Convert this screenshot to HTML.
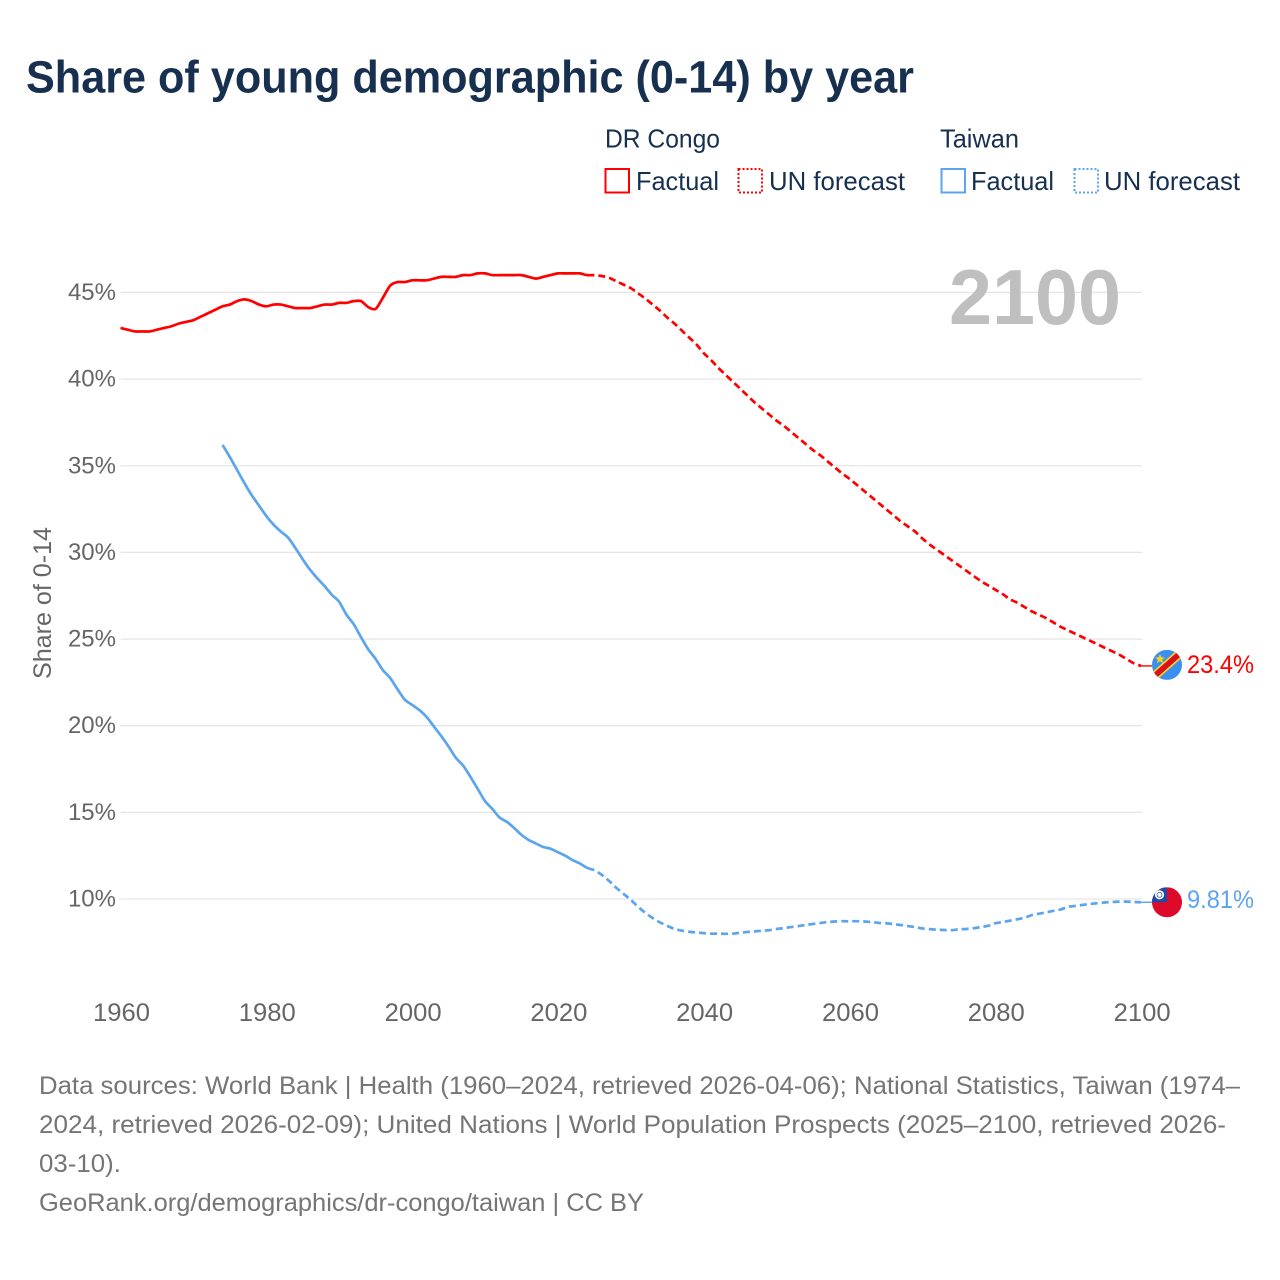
<!DOCTYPE html>
<html lang="en">
<head>
<meta charset="utf-8">
<title>Share of young demographic (0-14) by year</title>
<style>
html,body{margin:0;padding:0;background:#fff;width:1280px;height:1280px;overflow:hidden}
svg{display:block}
text{font-family:"Liberation Sans",sans-serif}
</style>
</head>
<body>
<svg id="chart" width="1280" height="1280" viewBox="0 0 1280 1280" xmlns="http://www.w3.org/2000/svg">
  <rect width="1280" height="1280" fill="#fff"/>
  <text x="26" y="92.5" font-size="45" font-weight="700" fill="#17304f" textLength="888" lengthAdjust="spacingAndGlyphs">Share of young demographic (0-14) by year</text>

  <g font-size="26" fill="#17304f">
    <text x="605" y="147.5" textLength="115" lengthAdjust="spacingAndGlyphs">DR Congo</text>
    <text x="940" y="147.5" textLength="79" lengthAdjust="spacingAndGlyphs">Taiwan</text>
    <rect x="605.5" y="169" width="23.5" height="23.5" fill="none" stroke="#ff0000" stroke-width="2"/>
    <text x="636" y="190" textLength="83" lengthAdjust="spacingAndGlyphs">Factual</text>
    <rect x="738.5" y="169" width="23.5" height="23.5" fill="none" stroke="#ff0000" stroke-width="2" stroke-dasharray="2 2"/>
    <text x="769" y="190" textLength="136" lengthAdjust="spacingAndGlyphs">UN forecast</text>
    <rect x="941.5" y="169" width="23.5" height="23.5" fill="none" stroke="#5ba4ee" stroke-width="2"/>
    <text x="971" y="190" textLength="83" lengthAdjust="spacingAndGlyphs">Factual</text>
    <rect x="1074.5" y="169" width="23.5" height="23.5" fill="none" stroke="#5ba4ee" stroke-width="2" stroke-dasharray="2 2"/>
    <text x="1104" y="190" textLength="136" lengthAdjust="spacingAndGlyphs">UN forecast</text>
  </g>

  <g id="grid"></g>
  <text x="949" y="324" font-size="78" font-weight="700" fill="#bfbfbf" textLength="172" lengthAdjust="spacingAndGlyphs">2100</text>
  <g id="y-ticks"></g>
  <g id="x-ticks"></g>
  <text transform="translate(51,679) rotate(-90)" font-size="25" fill="#666" textLength="152" lengthAdjust="spacingAndGlyphs">Share of 0-14</text>
  <g id="series"></g>

  <g id="flag-cd">
    <clipPath id="clip-cd"><circle cx="0" cy="0" r="15"/></clipPath>
    <g clip-path="url(#clip-cd)">
      <rect x="-15" y="-15" width="30" height="30" fill="#3a8ff0"/>
      <line x1="-18" y1="16" x2="18" y2="-16" stroke="#f7d21e" stroke-width="9"/>
      <line x1="-18" y1="16" x2="18" y2="-16" stroke="#d8101f" stroke-width="5.6"/>
      <polygon points="-7,-11 -5.6,-7.6 -2,-7.4 -4.8,-5.2 -3.8,-1.8 -7,-3.7 -10.2,-1.8 -9.2,-5.2 -12,-7.4 -8.4,-7.6" fill="#f7d21e"/>
    </g>
  </g>
  <g id="flag-tw">
    <clipPath id="clip-tw"><circle cx="0" cy="0" r="15"/></clipPath>
    <g clip-path="url(#clip-tw)">
      <rect x="-15" y="-15" width="30" height="30" fill="#de0a2a"/>
      <rect x="-15" y="-15" width="15" height="15" fill="#1f4aa8"/>
      <circle cx="-7.5" cy="-7.5" r="4.6" fill="#fff"/>
      <circle cx="-7.5" cy="-7.5" r="2.8" fill="#1f4aa8"/>
      <circle cx="-7.5" cy="-7.5" r="2.1" fill="#fff"/>
    </g>
  </g>
  <text id="label-cd" x="1187" y="673" font-size="25" fill="#ff0000" textLength="67" lengthAdjust="spacingAndGlyphs"></text>
  <text id="label-tw" x="1187" y="908" font-size="25" fill="#5ba4ee" textLength="67" lengthAdjust="spacingAndGlyphs"></text>

  <g font-size="25" fill="#757575">
    <text x="39" y="1094" textLength="1201" lengthAdjust="spacingAndGlyphs">Data sources: World Bank | Health (1960–2024, retrieved 2026-04-06); National Statistics, Taiwan (1974–</text>
    <text x="39" y="1133" textLength="1187" lengthAdjust="spacingAndGlyphs">2024, retrieved 2026-02-09); United Nations | World Population Prospects (2025–2100, retrieved 2026-</text>
    <text x="39" y="1172" textLength="82" lengthAdjust="spacingAndGlyphs">03-10).</text>
    <text x="39" y="1211" textLength="605" lengthAdjust="spacingAndGlyphs">GeoRank.org/demographics/dr-congo/taiwan | CC BY</text>
  </g>
</svg>
<script>
const xTickYears = [1960, 1980, 2000, 2020, 2040, 2060, 2080, 2100];
const yTickValues = [10, 15, 20, 25, 30, 35, 40, 45];

const congoFactualStart = 1960;
const congoFactual = [42.95,42.85,42.75,42.75,42.75,42.85,42.95,43.05,43.2,43.3,43.4,43.6,43.8,44.0,44.2,44.3,44.5,44.6,44.5,44.3,44.2,44.3,44.3,44.2,44.1,44.1,44.1,44.2,44.3,44.3,44.4,44.4,44.5,44.5,44.15,44.05,44.7,45.4,45.6,45.6,45.7,45.7,45.7,45.8,45.9,45.9,45.9,46.0,46.0,46.1,46.1,46.0,46.0,46.0,46.0,46.0,45.9,45.8,45.9,46.0,46.1,46.1,46.1,46.1,46.0,46.0];
const congoForecastStart = 2025;
const congoForecast = [46.0,45.95,45.85,45.65,45.45,45.25,44.95,44.65,44.3,43.95,43.55,43.2,42.8,42.4,42.0,41.5,41.1,40.65,40.25,39.85,39.45,39.05,38.65,38.3,37.95,37.6,37.3,36.95,36.6,36.25,35.9,35.6,35.25,34.9,34.55,34.25,33.9,33.55,33.2,32.85,32.5,32.15,31.8,31.5,31.2,30.8,30.45,30.15,29.85,29.55,29.25,28.95,28.65,28.35,28.1,27.85,27.6,27.3,27.1,26.85,26.6,26.4,26.2,25.95,25.7,25.5,25.3,25.1,24.9,24.7,24.5,24.3,24.1,23.85,23.6,23.45];

const taiwanFactualStart = 1974;
const taiwanFactual = [36.2,35.5,34.75,34.0,33.3,32.7,32.1,31.6,31.2,30.85,30.25,29.6,29.0,28.5,28.05,27.55,27.15,26.4,25.85,25.1,24.4,23.85,23.2,22.75,22.1,21.5,21.2,20.9,20.5,19.95,19.4,18.8,18.15,17.7,17.05,16.35,15.65,15.2,14.7,14.45,14.1,13.7,13.4,13.2,13.0,12.9,12.7,12.5,12.25,12.05,11.8,11.67];
const taiwanForecastStart = 2025;
const taiwanForecast = [11.67,11.4,11.05,10.65,10.3,9.95,9.55,9.2,8.9,8.65,8.45,8.27,8.17,8.11,8.07,8.03,8.0,8.0,7.99,8.0,8.05,8.1,8.13,8.17,8.2,8.27,8.32,8.38,8.44,8.5,8.56,8.62,8.67,8.7,8.72,8.71,8.72,8.7,8.67,8.62,8.6,8.55,8.5,8.44,8.38,8.3,8.26,8.23,8.21,8.2,8.25,8.27,8.31,8.38,8.45,8.6,8.67,8.75,8.83,8.92,9.07,9.15,9.23,9.32,9.4,9.55,9.6,9.66,9.71,9.76,9.8,9.83,9.85,9.85,9.83,9.81];

const congoEndLabel = "23.4%";
const taiwanEndLabel = "9.81%";

const SVGNS = "http://www.w3.org/2000/svg";
function xScale(year) { return 120.5 + (year - 1960) * 7.29; }
function yScale(value) { return 899 - (value - 10) * 17.33; }
function linePath(start, values) {
  const pts = values.map(function (v, i) { return [xScale(start + i), yScale(v)]; });
  let d = "M" + pts[0][0].toFixed(2) + " " + pts[0][1].toFixed(2);
  for (let i = 0; i < pts.length - 1; i++) {
    const p0 = pts[Math.max(i - 1, 0)], p1 = pts[i], p2 = pts[i + 1], p3 = pts[Math.min(i + 2, pts.length - 1)];
    const c1x = p1[0] + (p2[0] - p0[0]) / 8, c1y = p1[1] + (p2[1] - p0[1]) / 8;
    const c2x = p2[0] - (p3[0] - p1[0]) / 8, c2y = p2[1] - (p3[1] - p1[1]) / 8;
    d += "C" + c1x.toFixed(2) + " " + c1y.toFixed(2) + " " + c2x.toFixed(2) + " " + c2y.toFixed(2) + " " + p2[0].toFixed(2) + " " + p2[1].toFixed(2);
  }
  return d;
}
function drawSeries(start, values, color, dash, name) {
  const p = document.createElementNS(SVGNS, "path");
  p.setAttribute("d", linePath(start, values));
  p.setAttribute("fill", "none");
  p.setAttribute("stroke", color);
  p.setAttribute("stroke-width", "2.7");
  p.setAttribute("stroke-linejoin", "round");
  if (dash) {
    p.setAttribute("stroke-dasharray", dash);
    p.setAttribute("stroke-dashoffset", "7");
  }
  
  
  document.getElementById("series").appendChild(p);
}
function drawConnector(value, color, name) {
  const c = document.createElementNS(SVGNS, "line");
  c.setAttribute("x1", xScale(2100));
  c.setAttribute("x2", xScale(2100) + 11);
  c.setAttribute("y1", yScale(value));
  c.setAttribute("y2", yScale(value));
  c.setAttribute("stroke", color);
  c.setAttribute("stroke-width", "1.4");
  
  
  document.getElementById("series").appendChild(c);
}

yTickValues.forEach(function (v) {
  const g = document.createElementNS(SVGNS, "line");
  g.setAttribute("x1", xScale(1960));
  g.setAttribute("x2", xScale(2100) + 1);
  g.setAttribute("y1", yScale(v));
  g.setAttribute("y2", yScale(v));
  g.setAttribute("stroke", "#e6e6e6");
  g.setAttribute("stroke-width", "1.3");
  
  
  document.getElementById("grid").appendChild(g);

  const t = document.createElementNS(SVGNS, "text");
  t.setAttribute("x", 116);
  t.setAttribute("y", yScale(v) + 7.5);
  t.setAttribute("text-anchor", "end");
  t.setAttribute("font-size", "24");
  t.setAttribute("fill", "#666");
  t.textContent = v + "%";
  
  
  document.getElementById("y-ticks").appendChild(t);
});

xTickYears.forEach(function (yr) {
  const t = document.createElementNS(SVGNS, "text");
  t.setAttribute("x", xScale(yr) + 1);
  t.setAttribute("y", 1021);
  t.setAttribute("text-anchor", "middle");
  t.setAttribute("font-size", "25");
  t.setAttribute("fill", "#666");
  t.setAttribute("textLength", "57");
  t.setAttribute("lengthAdjust", "spacingAndGlyphs");
  t.textContent = yr;
  
  
  document.getElementById("x-ticks").appendChild(t);
});

drawSeries(congoFactualStart, congoFactual, "#ff0000", null, "dr-congo-factual-line");
drawSeries(congoForecastStart, congoForecast, "#ff0000", "7 4", "dr-congo-forecast-line");
drawSeries(taiwanFactualStart, taiwanFactual, "#5ba4ee", null, "taiwan-factual-line");
drawSeries(taiwanForecastStart, taiwanForecast, "#5ba4ee", "7 4", "taiwan-forecast-line");

const congoLast = congoForecast[congoForecast.length - 1];
const taiwanLast = taiwanForecast[taiwanForecast.length - 1];
drawConnector(congoLast, "#ff0000", "dr-congo-end-connector");
drawConnector(taiwanLast, "#5ba4ee", "taiwan-end-connector");
document.getElementById("flag-cd").setAttribute("transform", "translate(1167," + (yScale(congoLast) - 1) + ")");
document.getElementById("flag-tw").setAttribute("transform", "translate(1167," + yScale(taiwanLast) + ")");
document.getElementById("label-cd").textContent = congoEndLabel;
document.getElementById("label-cd").setAttribute("y", yScale(congoLast) + 7);
document.getElementById("label-tw").textContent = taiwanEndLabel;
document.getElementById("label-tw").setAttribute("y", yScale(taiwanLast) + 5.5);
</script>
</body>
</html>
